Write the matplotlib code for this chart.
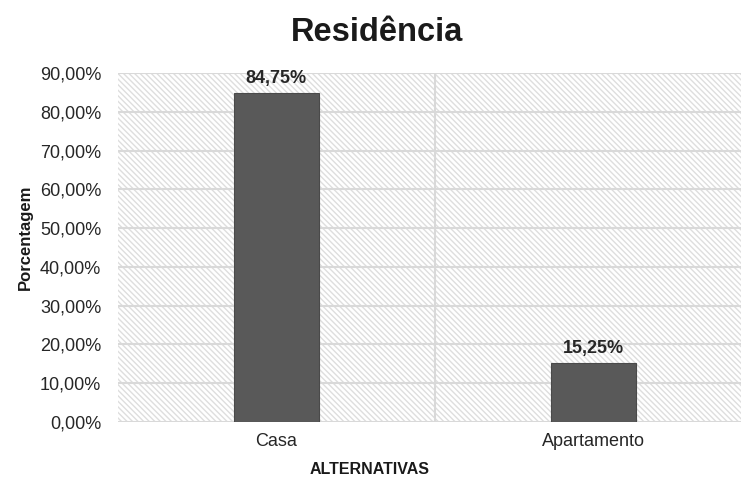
import matplotlib
matplotlib.use('Agg')
import matplotlib.pyplot as plt
from matplotlib.patches import Rectangle
from matplotlib.ticker import FuncFormatter, MultipleLocator

# Survey answers: type of residence
categories = ['Casa', 'Apartamento']
percentages = [84.75, 15.25]

plt.rcParams['font.family'] = ['Liberation Sans', 'DejaVu Sans']
plt.rcParams['hatch.linewidth'] = 1.0


def pct_br(v, _pos=None):
    return f"{v:.2f}%".replace('.', ',')


fig = plt.figure(figsize=(7.41, 4.80), dpi=100)
ax = fig.add_axes([0.159, 0.121, 0.856, 0.727])

# Hatched plot area background (fine diagonal light grey stripes)
ax.patch.set_visible(False)
bg = Rectangle((0, 0), 1, 1, transform=ax.transAxes, facecolor='white',
               edgecolor='#dedede', linewidth=0, hatch='\\' * 6, zorder=0)
ax.add_patch(bg)

x = range(len(categories))
bars = ax.bar(x, percentages, width=0.27, color='#595959',
              edgecolor='#4a4a4a', linewidth=0.8, zorder=3)

for rect, val in zip(bars, percentages):
    ax.text(rect.get_x() + rect.get_width() / 2, val + 1.6, pct_br(val),
            ha='center', va='bottom', fontsize=13, fontweight='bold',
            color='#262626', zorder=4)

ax.set_xlim(-0.5, 1.5)
ax.set_ylim(0, 90)
ax.yaxis.set_major_locator(MultipleLocator(10))
ax.yaxis.set_major_formatter(FuncFormatter(pct_br))
ax.set_xticks(list(x))
ax.set_xticklabels(categories)

# Gridlines: horizontal at each tick, vertical between categories
ax.set_axisbelow(True)
ax.grid(axis='y', color='#d9d9d9', linewidth=1.5, zorder=1)
ax.set_xticks([0.5], minor=True)
ax.grid(axis='x', which='minor', color='#d9d9d9', linewidth=1.5, zorder=1)

for s in ax.spines.values():
    s.set_visible(False)
ax.tick_params(axis='both', which='both', length=0, labelsize=13,
               colors='#262626')
ax.tick_params(axis='y', pad=12)
ax.tick_params(axis='x', pad=8)

fig.suptitle('Residência', fontsize=23.5, fontweight='bold', x=0.509,
             y=0.933, va='center', color='#1a1a1a')
ax.set_ylabel('Porcentagem', fontsize=12, fontweight='bold',
              color='#1a1a1a')
ax.yaxis.set_label_coords(-0.134, 0.53)
ax.set_xlabel('ALTERNATIVAS', fontsize=11.5, fontweight='bold',
              color='#1a1a1a')
ax.xaxis.set_label_coords((370 - 118) / (752 - 118), -0.115)

fig.savefig('out.png', dpi=100)
